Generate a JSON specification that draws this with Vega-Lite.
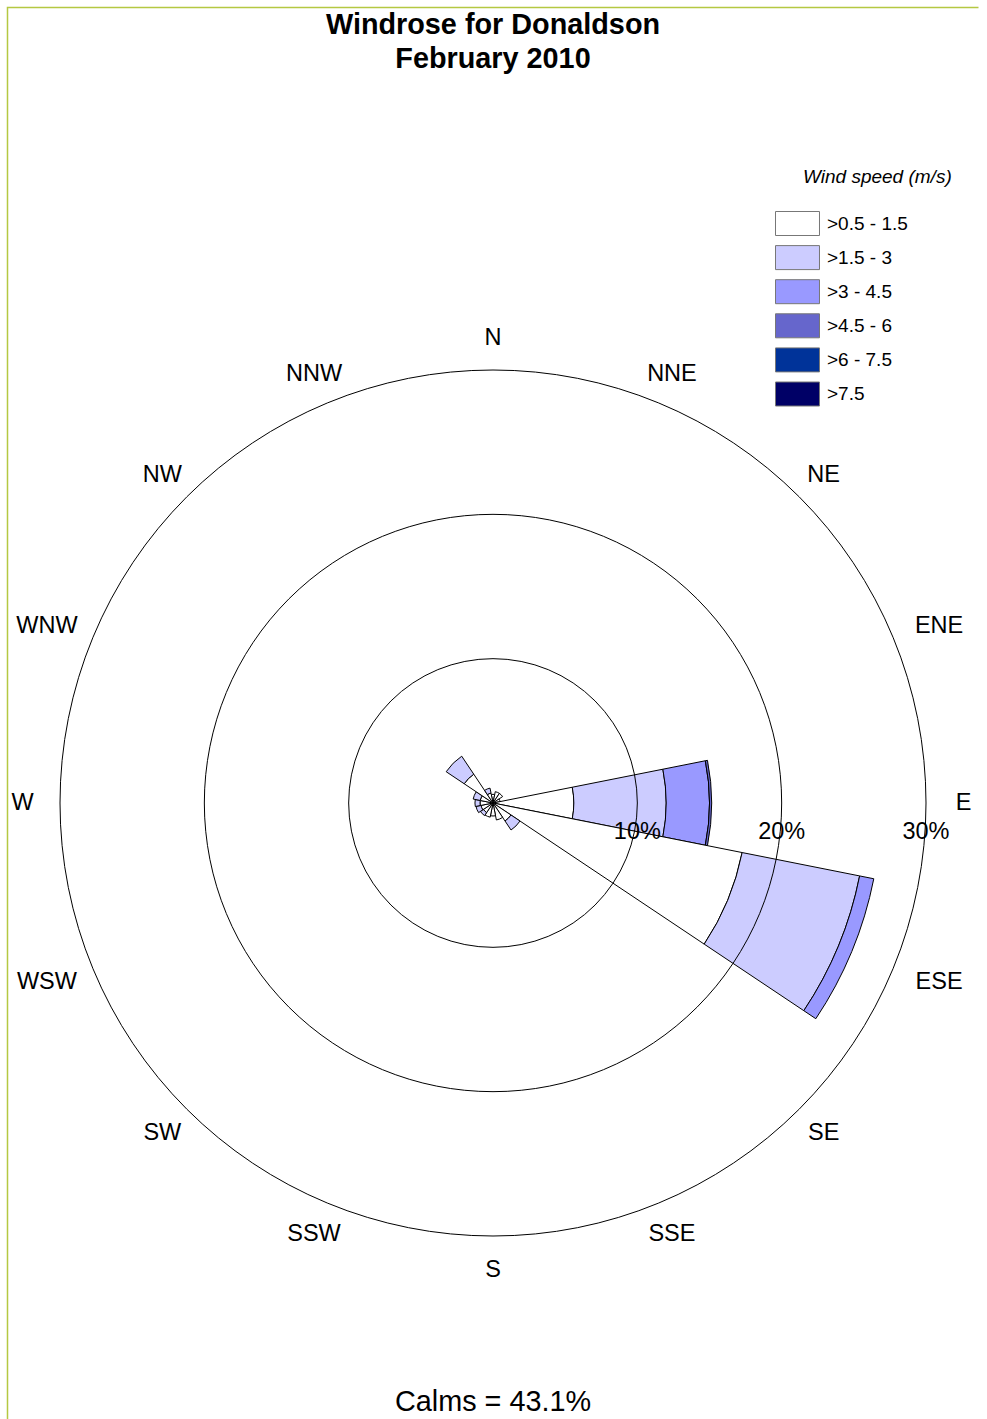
{
  "$schema": "https://vega.github.io/schema/vega-lite/v6.json",
  "autosize": {"type": "none"},
  "width": 971,
  "height": 1591,
  "padding": {"left": 7.5, "top": 7.5, "right": 8.5, "bottom": -179.5},
  "background": "white",
  "view": {"stroke": "#b5c842", "strokeWidth": 1.5, "strokeDash": [971, 2562, 1591]},
  "config": {
    "font": "Liberation Sans",
    "view": {"stroke": "#b5c842", "strokeWidth": 1.5, "strokeDash": [971, 2562, 1591]}
  },
  "title": {
    "text": ["Windrose for Donaldson", "February 2010"],
    "subtitle": "Calms = 43.1%",
    "anchor": "middle",
    "font": "Liberation Sans",
    "fontSize": 28.8,
    "fontWeight": "bold",
    "color": "black",
    "lineHeight": 34,
    "subtitleFont": "Liberation Sans",
    "subtitleFontSize": 28.8,
    "subtitleFontWeight": "normal",
    "subtitleColor": "black",
    "subtitlePadding": 1314.5,
    "offset": -1409.5
  },
  "datasets": {
    "petals": [
      {"dir": "N", "deg": 0, "speed": ">0.5 - 1.5", "pct": 0.6},
      {"dir": "NNE", "deg": 22.5, "speed": ">0.5 - 1.5", "pct": 0.8},
      {"dir": "NE", "deg": 45, "speed": ">0.5 - 1.5", "pct": 0.8},
      {"dir": "ENE", "deg": 67.5, "speed": ">0.5 - 1.5", "pct": 0.5},
      {"dir": "E", "deg": 90, "speed": ">0.5 - 1.5", "pct": 5.6},
      {"dir": "E", "deg": 90, "speed": ">1.5 - 3", "pct": 6.4},
      {"dir": "E", "deg": 90, "speed": ">3 - 4.5", "pct": 3.0},
      {"dir": "E", "deg": 90, "speed": ">4.5 - 6", "pct": 0.15},
      {"dir": "ESE", "deg": 112.5, "speed": ">0.5 - 1.5", "pct": 17.6},
      {"dir": "ESE", "deg": 112.5, "speed": ">1.5 - 3", "pct": 8.3},
      {"dir": "ESE", "deg": 112.5, "speed": ">3 - 4.5", "pct": 1.0},
      {"dir": "SE", "deg": 135, "speed": ">0.5 - 1.5", "pct": 1.5},
      {"dir": "SE", "deg": 135, "speed": ">1.5 - 3", "pct": 0.75},
      {"dir": "SSE", "deg": 157.5, "speed": ">0.5 - 1.5", "pct": 1.2},
      {"dir": "S", "deg": 180, "speed": ">0.5 - 1.5", "pct": 0.9},
      {"dir": "SSW", "deg": 202.5, "speed": ">0.5 - 1.5", "pct": 1.0},
      {"dir": "SW", "deg": 225, "speed": ">0.5 - 1.5", "pct": 0.8},
      {"dir": "SW", "deg": 225, "speed": ">1.5 - 3", "pct": 0.25},
      {"dir": "WSW", "deg": 247.5, "speed": ">0.5 - 1.5", "pct": 0.85},
      {"dir": "WSW", "deg": 247.5, "speed": ">1.5 - 3", "pct": 0.35},
      {"dir": "W", "deg": 270, "speed": ">0.5 - 1.5", "pct": 0.9},
      {"dir": "W", "deg": 270, "speed": ">1.5 - 3", "pct": 0.35},
      {"dir": "WNW", "deg": 292.5, "speed": ">0.5 - 1.5", "pct": 0.9},
      {"dir": "WNW", "deg": 292.5, "speed": ">1.5 - 3", "pct": 0.5},
      {"dir": "NW", "deg": 315, "speed": ">0.5 - 1.5", "pct": 2.4},
      {"dir": "NW", "deg": 315, "speed": ">1.5 - 3", "pct": 1.5},
      {"dir": "NNW", "deg": 337.5, "speed": ">0.5 - 1.5", "pct": 0.7},
      {"dir": "NNW", "deg": 337.5, "speed": ">1.5 - 3", "pct": 0.35}
    ],
    "rings": [
      {"ring": 10, "label": "10%"},
      {"ring": 20, "label": "20%"},
      {"ring": 30, "label": "30%"}
    ],
    "dirs": [
      {"label": "N", "deg": 0},
      {"label": "NNE", "deg": 22.5},
      {"label": "NE", "deg": 45},
      {"label": "ENE", "deg": 67.5},
      {"label": "E", "deg": 90},
      {"label": "ESE", "deg": 112.5},
      {"label": "SE", "deg": 135},
      {"label": "SSE", "deg": 157.5},
      {"label": "S", "deg": 180},
      {"label": "SSW", "deg": 202.5},
      {"label": "SW", "deg": 225},
      {"label": "WSW", "deg": 247.5},
      {"label": "W", "deg": 270},
      {"label": "WNW", "deg": 292.5},
      {"label": "NW", "deg": 315},
      {"label": "NNW", "deg": 337.5}
    ]
  },
  "layer": [
    {
      "data": {"name": "petals"},
      "transform": [
        {"stack": "pct", "groupby": ["deg"], "sort": [{"field": "speed"}], "as": ["r0", "r1"]}
      ],
      "mark": {"type": "arc", "thetaOffset": -0.19635, "theta2Offset": 0.19635, "stroke": "black", "strokeWidth": 1},
      "encoding": {
        "theta": {"field": "deg", "type": "quantitative", "stack": null, "scale": {"domain": [0, 360], "range": [0, 6.28318530718]}},
        "theta2": {"field": "deg"},
        "radius": {"field": "r1", "type": "quantitative", "stack": null, "scale": {"type": "linear", "domain": [0, 30], "range": [0, 433], "zero": true, "nice": false}},
        "radius2": {"field": "r0"},
        "color": {
          "field": "speed",
          "type": "nominal",
          "scale": {
            "domain": [">0.5 - 1.5", ">1.5 - 3", ">3 - 4.5", ">4.5 - 6", ">6 - 7.5", ">7.5"],
            "range": ["#ffffff", "#ccccff", "#9999ff", "#6666cc", "#003399", "#000066"]
          },
          "legend": {
            "title": "Wind speed (m/s)",
            "orient": "none",
            "legendX": 777.5,
            "legendY": 160.5,
            "padding": 0,
            "titleFont": "Liberation Sans",
            "titleFontSize": 19,
            "titleFontStyle": "italic",
            "titleFontWeight": "normal",
            "titleColor": "black",
            "titlePadding": 24,
            "titleAnchor": "start",
            "labelFont": "Liberation Sans",
            "labelFontSize": 19,
            "labelColor": "black",
            "labelOffset": 17,
            "labelLimit": 300,
            "symbolType": "M-1.833,-1L1.833,-1L1.833,1L-1.833,1Z",
            "symbolSize": 576,
            "symbolStrokeColor": "#777777",
            "symbolStrokeWidth": 1,
            "symbolOpacity": 1,
            "rowPadding": 5.1,
            "encode": {"title": {"update": {"dx": {"value": 18}}}}
          }
        }
      }
    },
    {
      "data": {"name": "rings"},
      "mark": {"type": "arc", "filled": false, "stroke": "black", "strokeWidth": 1},
      "encoding": {
        "theta": {"datum": 0, "type": "quantitative", "scale": {"domain": [0, 360], "range": [0, 6.28318530718]}},
        "theta2": {"datum": 360},
        "radius": {"field": "ring", "type": "quantitative", "stack": null, "scale": {"type": "linear", "domain": [0, 30], "range": [0, 433], "zero": true, "nice": false}}
      }
    },
    {
      "data": {"name": "rings"},
      "mark": {"type": "text", "dy": 29, "fontSize": 23.5, "align": "center", "baseline": "middle", "color": "black"},
      "encoding": {
        "theta": {"datum": 90, "type": "quantitative", "scale": {"domain": [0, 360], "range": [0, 6.28318530718]}},
        "radius": {"field": "ring", "type": "quantitative", "stack": null, "scale": {"type": "linear", "domain": [0, 30], "range": [0, 433], "zero": true, "nice": false}},
        "text": {"field": "label"}
      }
    },
    {
      "data": {"name": "dirs"},
      "transform": [{"filter": {"field": "label", "oneOf": ["N", "NNE", "NE", "NW", "NNW"]}}],
      "mark": {"type": "text", "dy": 3, "fontSize": 23.5, "align": "center", "baseline": "middle", "color": "black"},
      "encoding": {
        "theta": {"field": "deg", "type": "quantitative", "stack": null, "scale": {"domain": [0, 360], "range": [0, 6.28318530718]}},
        "radius": {"datum": 32.4, "type": "quantitative", "scale": {"type": "linear", "domain": [0, 30], "range": [0, 433], "zero": true, "nice": false}},
        "text": {"field": "label"}
      }
    },
    {
      "data": {"name": "dirs"},
      "transform": [{"filter": {"field": "label", "oneOf": ["E", "W"]}}],
      "mark": {"type": "text", "fontSize": 23.5, "align": "center", "baseline": "middle", "color": "black"},
      "encoding": {
        "theta": {"field": "deg", "type": "quantitative", "stack": null, "scale": {"domain": [0, 360], "range": [0, 6.28318530718]}},
        "radius": {"datum": 32.6, "type": "quantitative", "scale": {"type": "linear", "domain": [0, 30], "range": [0, 433], "zero": true, "nice": false}},
        "text": {"field": "label"}
      }
    },
    {
      "data": {"name": "dirs"},
      "transform": [{"filter": {"field": "label", "oneOf": ["S", "SSE", "SE", "SW", "SSW"]}}],
      "mark": {"type": "text", "dy": -1, "fontSize": 23.5, "align": "center", "baseline": "middle", "color": "black"},
      "encoding": {
        "theta": {"field": "deg", "type": "quantitative", "stack": null, "scale": {"domain": [0, 360], "range": [0, 6.28318530718]}},
        "radius": {"datum": 32.4, "type": "quantitative", "scale": {"type": "linear", "domain": [0, 30], "range": [0, 433], "zero": true, "nice": false}},
        "text": {"field": "label"}
      }
    },
    {
      "data": {"name": "dirs"},
      "transform": [{"filter": {"field": "label", "oneOf": ["ENE", "WNW"]}}],
      "mark": {"type": "text", "dy": 8, "fontSize": 23.5, "align": "center", "baseline": "middle", "color": "black"},
      "encoding": {
        "theta": {"field": "deg", "type": "quantitative", "stack": null, "scale": {"domain": [0, 360], "range": [0, 6.28318530718]}},
        "radius": {"datum": 33.45, "type": "quantitative", "scale": {"type": "linear", "domain": [0, 30], "range": [0, 433], "zero": true, "nice": false}},
        "text": {"field": "label"}
      }
    },
    {
      "data": {"name": "dirs"},
      "transform": [{"filter": {"field": "label", "oneOf": ["ESE", "WSW"]}}],
      "mark": {"type": "text", "dy": -6, "fontSize": 23.5, "align": "center", "baseline": "middle", "color": "black"},
      "encoding": {
        "theta": {"field": "deg", "type": "quantitative", "stack": null, "scale": {"domain": [0, 360], "range": [0, 6.28318530718]}},
        "radius": {"datum": 33.45, "type": "quantitative", "scale": {"type": "linear", "domain": [0, 30], "range": [0, 433], "zero": true, "nice": false}},
        "text": {"field": "label"}
      }
    }
  ]
}
